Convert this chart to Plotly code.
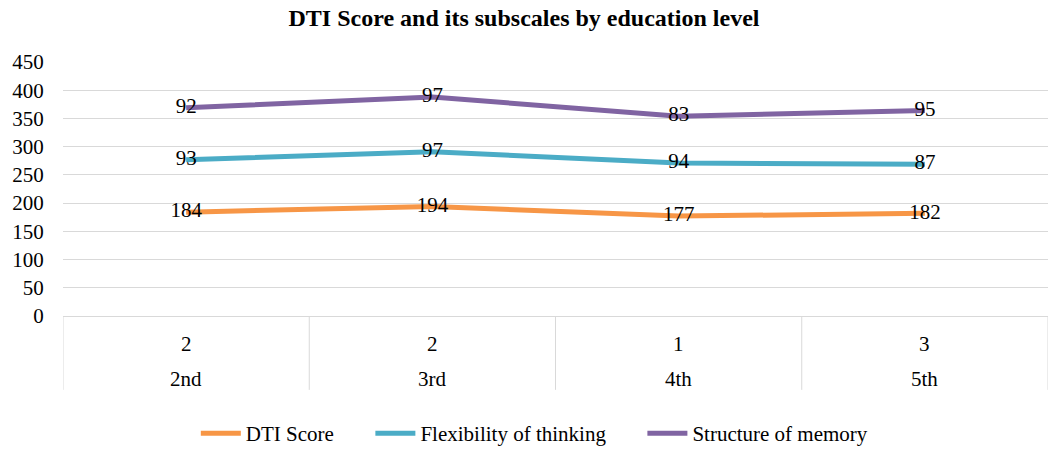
import numpy as np
import plotly.graph_objects as go

categories = ["2nd", "3rd", "4th", "5th"]
group_labels = ["2", "2", "1", "3"]
dti_score = [184, 194, 177, 182]
flexibility = [93, 97, 94, 87]
structure = [92, 97, 83, 95]
series_names = ["DTI Score", "Flexibility of thinking", "Structure of memory"]
colors = ["#F79646", "#4BACC6", "#8064A2"]
y_ticks = [0, 50, 100, 150, 200, 250, 300, 350, 400, 450]

FONT = "Liberation Serif"
x = np.arange(len(categories))
series = [dti_score, flexibility, structure]
cum = np.cumsum(np.array(series), axis=0)

fig = go.Figure()
n = len(series_names)
for i, (name, vals, c, col) in enumerate(zip(series_names, series, cum, colors)):
    pad = "\u00a0" * 6 if i < n - 1 else ""
    fig.add_trace(go.Scatter(
        x=x, y=c, mode="lines+text", name=name + pad,
        text=[str(v) for v in vals], textposition="middle center",
        textfont=dict(family=FONT, size=21, color="#000000"),
        line=dict(color=col, width=5),
    ))

H = 258.0
shapes = []
for b in list(np.arange(len(categories) + 1) - 0.5):
    shapes.append(dict(type="line", xref="x", yref="paper", x0=b, x1=b,
                       y0=0, y1=-(395 - 320) / H,
                       line=dict(color="#D9D9D9", width=1)))
annotations = []
for xi, g, cat in zip(x, group_labels, categories):
    annotations.append(dict(x=xi, y=-(348 - 320) / H, xref="x", yref="paper",
                            text=g, showarrow=False, yanchor="middle",
                            font=dict(family=FONT, size=21, color="#000")))
    annotations.append(dict(x=xi, y=-(384 - 320) / H, xref="x", yref="paper",
                            text=cat, showarrow=False, yanchor="middle",
                            font=dict(family=FONT, size=21, color="#000")))

fig.update_layout(
    width=1048, height=454,
    margin=dict(l=63, r=0, t=62, b=134),
    paper_bgcolor="white", plot_bgcolor="white",
    title=dict(text="<b>DTI Score and its subscales by education level</b>",
               x=0.5, xanchor="center", y=1 - 18 / 454, yanchor="middle",
               font=dict(family=FONT, size=24, color="#000")),
    font=dict(family=FONT, size=21, color="#000"),
    xaxis=dict(range=[-0.5, len(categories) - 0.5], showticklabels=False,
               showgrid=False, zeroline=False, showline=True,
               linecolor="#D9D9D9", linewidth=1, fixedrange=True),
    yaxis=dict(range=[0, 450], tickvals=y_ticks, showgrid=True,
               gridcolor="#D9D9D9", gridwidth=1, zeroline=False,
               showline=False, ticks="outside", ticklen=14,
               tickcolor="rgba(0,0,0,0)",
               tickfont=dict(family=FONT, size=21, color="#000")),
    legend=dict(orientation="h", x=0.479, xanchor="center",
                y=-(440 - 320) / H, yanchor="middle",
                font=dict(family=FONT, size=21, color="#000"),
                itemwidth=40),
    shapes=shapes, annotations=annotations,
    showlegend=True,
)

fig.write_html("out.html")
